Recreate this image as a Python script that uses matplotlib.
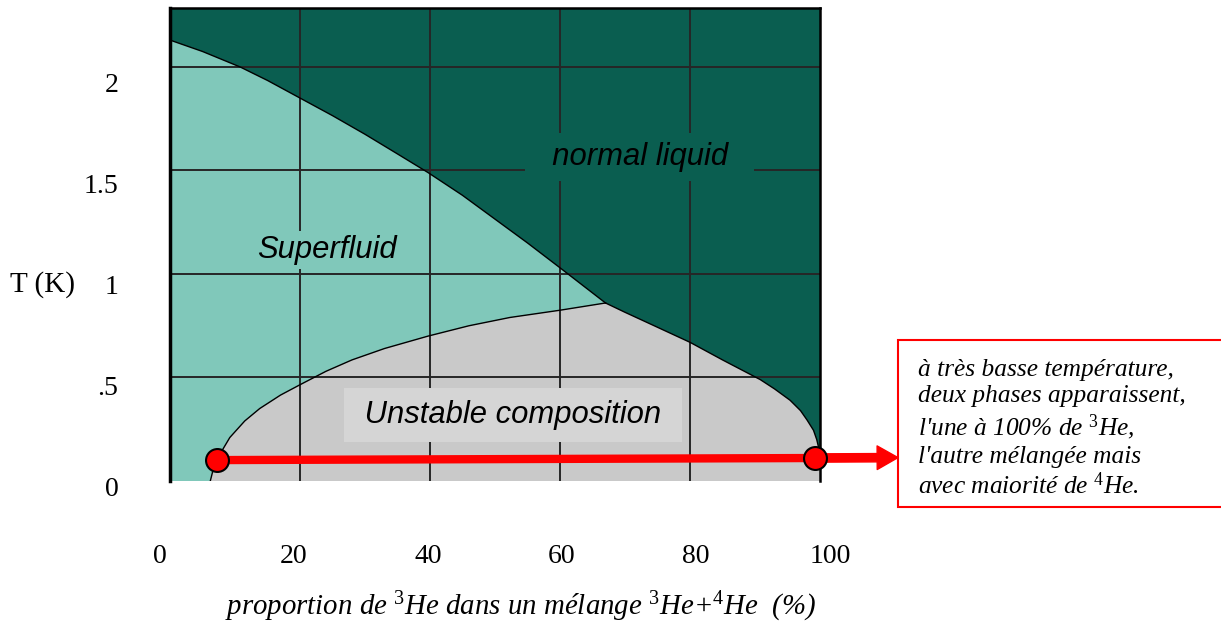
import matplotlib
matplotlib.use("Agg")
import matplotlib.pyplot as plt
from matplotlib.patches import Rectangle

plt.rcParams["font.family"] = ["Liberation Serif", "DejaVu Serif"]
plt.rcParams["mathtext.fontset"] = "custom"
plt.rcParams["mathtext.rm"] = "Liberation Serif"
plt.rcParams["mathtext.it"] = "Liberation Serif:italic"

# phase boundaries, x in % of 3He, T in K
lambda_x = [0, 5, 10.8, 15, 20, 25, 30, 35, 39.7, 45, 50, 55, 60, 63.5, 67]
lambda_T = [2.13, 2.075, 2.0, 1.935, 1.85, 1.765, 1.675, 1.58, 1.49,
            1.38, 1.265, 1.15, 1.03, 0.945, 0.86]
sep_left_x = [6.2, 6.6, 7.5, 9.2, 11.5, 13.8, 17, 20, 24, 28, 33, 39.7,
              46, 52.3, 60, 67]
sep_left_T = [0, 0.05, 0.12, 0.21, 0.29, 0.35, 0.415, 0.465, 0.53, 0.585,
              0.64, 0.70, 0.75, 0.79, 0.825, 0.86]
sep_right_x = [67, 70, 73.8, 80, 85, 90.8, 93, 95.4, 97, 98, 99, 99.5, 99.8, 100]
sep_right_T = [0.86, 0.815, 0.76, 0.67, 0.585, 0.49, 0.445, 0.39, 0.34,
               0.295, 0.245, 0.2, 0.16, 0.12]

# the two coexisting phases at low T
phase_x = [7.2, 99.2]
phase_T = [0.101, 0.111]
arrow_end_x = 112

x_ticks = [0, 20, 40, 60, 80, 100]
x_ticklabels = ["0", "20", "40", "60", "80", "100"]
y_ticks = [0, 0.5, 1, 1.5, 2]
y_ticklabels = ["0", ".5", "1", "1.5", "2"]

note_lines = [
    "à très basse température,",
    "deux phases apparaissent,",
    "l'une à 100% de $^{3}$He,",
    "l'autre mélangée mais",
    "avec maiorité de $^{4}$He.",
]

dark_green = "#0a5e50"
light_teal = "#80c8ba"
grey = "#c9c9c9"

W, H = 1221, 626
fig = plt.figure(figsize=(W / 100, H / 100), dpi=100)
ax = fig.add_axes([170 / W, 1 - 481 / H, 650 / W, 473 / H])
ax.set_xlim(0, 100)
ax.set_ylim(0, 2.285)
ax.set_facecolor(dark_green)

# superfluid region
sf_x = [0, 0] + lambda_x + sep_left_x[::-1]
sf_T = [0, lambda_T[0]] + lambda_T + sep_left_T[::-1]
ax.fill(sf_x, sf_T, color=light_teal, lw=0, zorder=1)

# unstable region
un_x = sep_left_x + sep_right_x[1:] + [100]
un_T = sep_left_T + sep_right_T[1:] + [0]
ax.fill(un_x, un_T, color=grey, lw=0, zorder=1)

for gx in x_ticks[1:-1]:
    ax.axvline(gx, color="#262626", lw=1.4, zorder=2)
for gy in y_ticks[1:]:
    ax.axhline(gy, color="#262626", lw=1.4, zorder=2)

ax.plot(lambda_x, lambda_T, color="black", lw=1, zorder=3)
ax.plot(sep_left_x, sep_left_T, color="black", lw=1, zorder=3)
ax.plot(sep_right_x, sep_right_T, color="black", lw=1, zorder=3)

lab = dict(family="Liberation Sans", style="italic", fontsize=22.3,
           ha="center", va="center", zorder=4)
ax.text(24.2, 1.115, "Superfluid", **lab,
        bbox=dict(boxstyle="square,pad=0.12", fc=light_teal, ec="none"))
ax.text(72.3, 1.565, "  normal liquid  ", **lab,
        bbox=dict(boxstyle="square,pad=0.3", fc=dark_green, ec="none"))
ax.text(52.8, 0.319, " Unstable composition ", **lab,
        bbox=dict(boxstyle="square,pad=0.4", fc="#d5d5d5", ec="none"))

ax.set_xticks([])
ax.set_yticks([])
ax.spines["bottom"].set_visible(False)
ax.spines["left"].set_linewidth(2.5)
ax.spines["top"].set_linewidth(1.8)
ax.spines["right"].set_linewidth(1.8)
for s in ax.spines.values():
    s.set_zorder(6)

ax.annotate("", xy=(arrow_end_x, phase_T[1] + 0.002), xytext=(phase_x[1], phase_T[1]),
            annotation_clip=False,
            arrowprops=dict(arrowstyle="simple,head_length=0.75,head_width=0.85,tail_width=0.3",
                            mutation_scale=20, color="red", shrinkA=0, shrinkB=0),
            zorder=7)
ax.plot(phase_x, phase_T, color="red", lw=6, zorder=7, solid_capstyle="butt")
ax.plot(phase_x, phase_T, "o", ms=16.5, mfc="red", mec="black", mew=1.5,
        zorder=8, clip_on=False)

# separate axes only for the tick labels (they are offset from the grid)
lab_ax = fig.add_axes([160 / W, 1 - 487 / H, 670 / W, 405 / H])
lab_ax.patch.set_visible(False)
for s in lab_ax.spines.values():
    s.set_visible(False)
lab_ax.set_xlim(0, 100)
lab_ax.set_ylim(0, 2)
lab_ax.set_xticks(x_ticks, x_ticklabels)
lab_ax.set_yticks(y_ticks, y_ticklabels)
lab_ax.tick_params(length=0, labelsize=20)
lab_ax.tick_params(axis="x", pad=41)
lab_ax.tick_params(axis="y", pad=30)

fig.text(10 / W, 1 - 285 / H, "T (K)", fontsize=21, ha="left", va="center")
fig.text(521 / W, 1 - 607 / H,
         "proportion de $^{3}$He dans un mélange $^{3}$He+$^{4}$He  (%)",
         fontsize=20.8, style="italic", ha="center", va="center")

fig.patches.append(Rectangle((898 / W, 1 - 507 / H), 325 / W, 167 / H,
                             transform=fig.transFigure, fc="white", ec="red", lw=1.5))
fig.text(918 / W, 1 - 359 / H, "\n".join(note_lines), fontsize=18.3,
         style="italic", ha="left", va="top", linespacing=1.23)

fig.savefig("out.png", dpi=100)
